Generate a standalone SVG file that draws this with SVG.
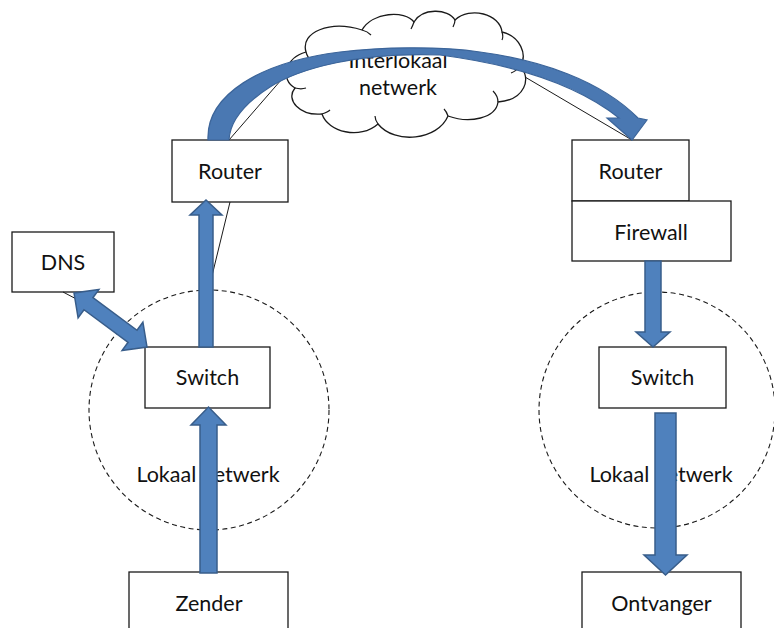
<svg xmlns="http://www.w3.org/2000/svg" width="774" height="628" viewBox="0 0 774 628">
  <style>
    .box { fill: #ffffff; stroke: #1a1a1a; stroke-width: 1.3; }
    .lan { fill: none; stroke: #1a1a1a; stroke-width: 1.1; stroke-dasharray: 5 3.5; }
    .wire { fill: none; stroke: #1a1a1a; stroke-width: 1; }
    .cloud { fill: #ffffff; stroke: #1a1a1a; stroke-width: 1.3; }
    .crease { fill: none; stroke: #1a1a1a; stroke-width: 1.2; }
    .flow { fill: #4f81bd; stroke: #385d8a; stroke-width: 1.5; stroke-linejoin: miter; }
    .arc { fill: #4a78b2; stroke: #3c659a; stroke-width: 1.2; }
    .lbl { font-family: Lato, "Liberation Sans", sans-serif; font-size: 21.5px; fill: #111111; text-anchor: middle; }
  </style>

  <!-- local network zones -->
  <g id="zone-left">
    <circle class="lan" cx="209" cy="410" r="120"/>
    <text class="lbl" x="208" y="482">Lokaal netwerk</text>
  </g>
  <g id="zone-right">
    <circle class="lan" cx="657" cy="410" r="118"/>
    <text class="lbl" x="661" y="482">Lokaal netwerk</text>
  </g>

  <!-- wide-area network cloud -->
  <g id="cloud">
    <path class="cloud" d="M 306,52 C 300,32 330,20 362,30 C 372,12 405,10 414,22 C 422,8 448,8 455,20 C 470,6 500,14 502,32 C 520,36 528,55 520,66 C 532,78 525,100 498,102 C 496,118 470,124 448,116 C 438,140 395,145 378,124 C 360,140 328,132 322,114 C 300,116 285,100 295,88 C 280,80 285,58 306,52 Z"/>
    <path class="crease" d="M 306,52 C 307,56 309,59 312,61"/>
    <path class="crease" d="M 362,30 C 366,31 369,33 371,35"/>
    <path class="crease" d="M 414,22 C 413,25 412,27 411,29"/>
    <path class="crease" d="M 455,20 C 455,23 454,25 453,27"/>
    <path class="crease" d="M 502,32 C 503,35 503,38 502,40"/>
    <path class="crease" d="M 520,66 C 517,70 514,72 511,73"/>
    <path class="crease" d="M 498,102 C 498,98 496,94 493,91"/>
    <path class="crease" d="M 448,116 C 447,113 446,111 444,109"/>
    <path class="crease" d="M 378,124 C 376,121 375,119 375,116"/>
    <path class="crease" d="M 322,114 C 325,113 328,112 330,110"/>
    <path class="crease" d="M 295,88 C 299,89 303,89 306,88"/>
    <text class="lbl" x="398" y="68">Interlokaal</text>
    <text class="lbl" x="398" y="95">netwerk</text>
  </g>

  <!-- devices -->
  <g id="dns">
    <rect class="box" x="12" y="232" width="102" height="60"/>
    <text class="lbl" x="63" y="270">DNS</text>
  </g>
  <g id="router-left">
    <rect class="box" x="172" y="140" width="116" height="62"/>
    <text class="lbl" x="230" y="179">Router</text>
  </g>
  <g id="switch-left">
    <rect class="box" x="145" y="347" width="125" height="61"/>
    <text class="lbl" x="207.5" y="385">Switch</text>
  </g>
  <g id="zender">
    <rect class="box" x="129" y="572" width="159" height="80"/>
    <text class="lbl" x="209" y="611">Zender</text>
  </g>
  <g id="router-right">
    <rect class="box" x="572" y="140" width="117" height="61"/>
    <text class="lbl" x="630.5" y="179">Router</text>
  </g>
  <g id="firewall">
    <rect class="box" x="572" y="201" width="159" height="60"/>
    <text class="lbl" x="651" y="240">Firewall</text>
  </g>
  <g id="switch-right">
    <rect class="box" x="599" y="347" width="127" height="61"/>
    <text class="lbl" x="662.5" y="385">Switch</text>
  </g>
  <g id="ontvanger">
    <rect class="box" x="582" y="572" width="159" height="80"/>
    <text class="lbl" x="661.5" y="611">Ontvanger</text>
  </g>

  <!-- connectors -->
  <g id="connectors">
    <line class="wire" x1="229" y1="140" x2="288" y2="72"/>
    <line class="wire" x1="230" y1="202" x2="211" y2="280"/>
    <line class="wire" x1="63" y1="292" x2="82" y2="302"/>
    <line class="wire" x1="525" y1="77" x2="632" y2="140"/>

    <!-- DNS <-> switch -->
    <polygon class="flow" points="74,293 78.1,317.8 84,309.7 128.1,342.3 122.1,350.4 147,347 142.9,322.2 137,330.3 92.9,297.7 98.9,289.6"/>
    <!-- switch -> router -->
    <polygon class="flow" points="199,347 213,347 213,215 222,215 206,200 190,215 199,215"/>
    <!-- zender -> switch -->
    <polygon class="flow" points="200,573 217,573 217,425 226,425 208.5,407 191,425 200,425"/>
    <!-- firewall -> switch -->
    <polygon class="flow" points="645,261 661,261 661,332 670,332 653,347 636,332 645,332"/>
    <!-- switch -> ontvanger -->
    <polygon class="flow" points="655,413 676,413 676,555 687,555 665.5,575 644,555 655,555"/>
    <!-- router -> router over the wide-area network -->
    <path class="arc" d="M 208,140 C 206,95 260,62 340,52 C 380,47 440,46 480,52 C 540,60 600,80 638,118 L 647,120 L 632,140 L 607,118 L 619,118 C 590,95 540,68 440,55 C 360,52 300,68 270,87 C 245,103 230,120 229,140 Z"/>
  </g>
</svg>
